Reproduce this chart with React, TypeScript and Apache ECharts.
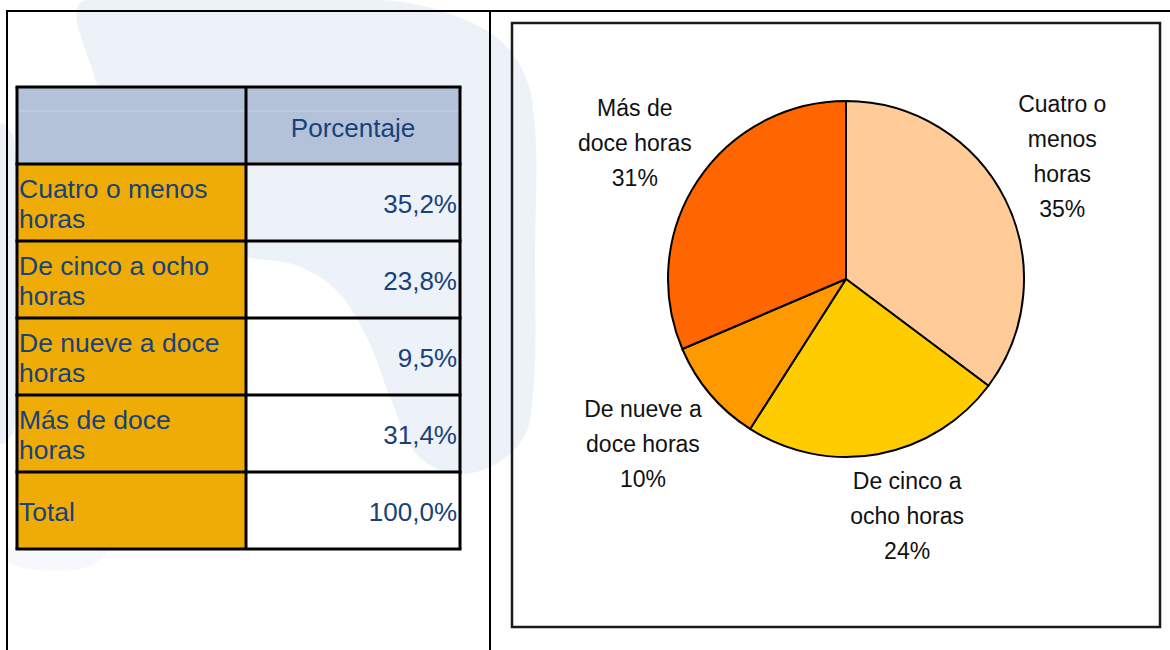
import React, { useEffect, useRef } from "react";
import * as echarts from "echarts";

// ---- Data ----
const categories = [
  "Cuatro o menos horas",
  "De cinco a ocho horas",
  "De nueve a doce horas",
  "Más de doce horas",
];
const tableLabels = [
  "Cuatro o menos\nhoras",
  "De cinco a ocho\nhoras",
  "De nueve a doce\nhoras",
  "Más de doce\nhoras",
];
const pieLabels = [
  "Cuatro o\nmenos\nhoras",
  "De cinco a\nocho horas",
  "De nueve a\ndoce horas",
  "Más de\ndoce horas",
];
const percentages = [35.2, 23.8, 9.5, 31.4];
const totalLabel = "Total";
const totalValue = 100.0;
const columnHeader = "Porcentaje";
const sliceColors = ["#FFCC99", "#FFCC00", "#FF9900", "#FF6600"];

const fmt = (v: number) => v.toFixed(1).replace(".", ",") + "%";

// ---- Layout constants ----
const TX0 = 17;
const TX1 = 246;
const TX2 = 460;
const TY0 = 87;
const ROW_H = 77;
const TABLE_FONT = '"Liberation Sans", Arial, sans-serif';
const TABLE_TEXT = "#17427A";
const LABEL_FONT = '"Liberation Sans", Arial, sans-serif';

function buildTable(): any[] {
  const els: any[] = [];
  const rows = tableLabels.map((l, i) => ({ label: l, value: fmt(percentages[i]) }));
  rows.push({ label: totalLabel, value: fmt(totalValue) });
  const nRows = rows.length + 1;
  const yEnd = TY0 + nRows * ROW_H;

  els.push({
    type: "rect",
    shape: { x: TX0, y: TY0, width: TX2 - TX0, height: ROW_H },
    style: { fill: "#B4C2D9" },
  });
  els.push({
    type: "line",
    shape: { x1: TX0, y1: TY0 + 24, x2: TX2, y2: TY0 + 24 },
    style: { stroke: "#C4D0E3", lineWidth: 1 },
  });
  els.push({
    type: "text",
    style: {
      text: columnHeader,
      x: (TX1 + TX2) / 2,
      y: TY0 + ROW_H / 2 + 2,
      fill: TABLE_TEXT,
      font: `26px ${TABLE_FONT}`,
      align: "center",
      textAlign: "center",
      verticalAlign: "middle",
      textVerticalAlign: "middle",
    },
  });

  rows.forEach((r, i) => {
    const y = TY0 + (i + 1) * ROW_H;
    els.push({
      type: "rect",
      shape: { x: TX0, y, width: TX1 - TX0, height: ROW_H },
      style: { fill: "#F0AC06" },
    });
    els.push({
      type: "text",
      style: {
        text: r.label,
        x: TX0 + 2,
        y: y + ROW_H / 2 + 1,
        fill: TABLE_TEXT,
        font: `26.5px ${TABLE_FONT}`,
        lineHeight: 30,
        align: "left",
        textAlign: "left",
        verticalAlign: "middle",
        textVerticalAlign: "middle",
      },
    });
    els.push({
      type: "text",
      style: {
        text: r.value,
        x: TX2 - 3,
        y: y + ROW_H / 2 + 1,
        fill: TABLE_TEXT,
        font: `26px ${TABLE_FONT}`,
        align: "right",
        textAlign: "right",
        verticalAlign: "middle",
        textVerticalAlign: "middle",
      },
    });
  });

  for (let i = 0; i <= nRows; i++) {
    const y = TY0 + i * ROW_H;
    els.push({
      type: "line",
      shape: { x1: TX0 - 1.5, y1: y, x2: TX2 + 1.5, y2: y },
      style: { stroke: "#000", lineWidth: 3 },
    });
  }
  [TX0, TX1, TX2].forEach((x) => {
    els.push({
      type: "line",
      shape: { x1: x, y1: TY0, x2: x, y2: yEnd },
      style: { stroke: "#000", lineWidth: 3 },
    });
  });
  return els;
}

function buildBackground(): any[] {
  const wm = "#EDF1F8";
  return [
    {
      type: "polygon",
      shape: {
        smooth: 0.35,
        points: [
          [85, 0],
          [380, 0],
          [450, 14],
          [505, 45],
          [532, 100],
          [535, 250],
          [530, 420],
          [505, 458],
          [460, 474],
          [418, 456],
          [392, 402],
          [368, 340],
          [338, 292],
          [298, 266],
          [250, 258],
          [200, 250],
          [150, 228],
          [115, 175],
          [98, 90],
        ],
      },
      style: { fill: wm },
    },
    {
      type: "polygon",
      shape: {
        smooth: 0.4,
        points: [
          [0, 125],
          [14, 140],
          [18, 300],
          [14, 430],
          [0, 442],
        ],
      },
      style: { fill: wm },
    },
    {
      type: "polygon",
      shape: {
        smooth: 0.4,
        points: [
          [8, 550],
          [105, 550],
          [90, 566],
          [40, 570],
          [8, 562],
        ],
      },
      style: { fill: "#F6F8FC" },
    },
    {
      type: "line",
      shape: { x1: 6, y1: 11, x2: 1170, y2: 11 },
      style: { stroke: "#000", lineWidth: 2 },
    },
    {
      type: "line",
      shape: { x1: 7, y1: 10, x2: 7, y2: 650 },
      style: { stroke: "#000", lineWidth: 2 },
    },
    {
      type: "line",
      shape: { x1: 490, y1: 10, x2: 490, y2: 650 },
      style: { stroke: "#000", lineWidth: 2 },
    },
    {
      type: "rect",
      shape: { x: 512, y: 23, width: 648, height: 604 },
      style: { fill: "none", stroke: "#1A1A1A", lineWidth: 2.5 },
    },
  ];
}

export default function App() {
  const ref = useRef<HTMLDivElement>(null);

  useEffect(() => {
    if (!ref.current) return;
    const chart = echarts.init(ref.current, undefined, { renderer: "svg" });
    const pieData = categories.map((name, i) => ({
      name,
      value: percentages[i],
      itemStyle: { color: sliceColors[i] },
    }));
    const labelData = categories.map((name, i) => ({
      name,
      value: percentages[i],
    }));

    chart.setOption({
      animation: false,
      backgroundColor: "#ffffff",
      graphic: { elements: [...buildBackground(), ...buildTable()] },
      series: [
        {
          type: "pie",
          center: [846, 279],
          radius: 178,
          startAngle: 90,
          clockwise: true,
          silent: true,
          label: { show: false },
          labelLine: { show: false },
          itemStyle: { borderColor: "#000", borderWidth: 2 },
          emphasis: { disabled: true },
          data: pieData,
        },
        {
          type: "pie",
          center: [846, 279],
          radius: [240, 260],
          startAngle: 90,
          clockwise: true,
          silent: true,
          itemStyle: { color: "rgba(0,0,0,0)", borderWidth: 0 },
          emphasis: { disabled: true },
          labelLine: { show: false },
          label: {
            show: true,
            position: "inside",
            rotate: 0,
            color: "#111",
            fontFamily: LABEL_FONT,
            fontSize: 23,
            lineHeight: 35,
            align: "center",
            formatter: (p: any) =>
              pieLabels[p.dataIndex] + "\n" + Math.round(p.value) + "%",
          },
          labelLayout: (p: any) => {
            const offsets = [
              [-10, -9],
              [16, -12],
              [-10, 1],
              [0, 3],
            ];
            const o = offsets[p.dataIndex] || [0, 0];
            return { dx: o[0], dy: o[1] };
          },
          data: labelData,
        },
      ],
    });
    return () => chart.dispose();
  }, []);

  return (
    <div
      ref={ref}
      style={{ position: "absolute", left: 0, top: 0, width: 1170, height: 650 }}
    />
  );
}
